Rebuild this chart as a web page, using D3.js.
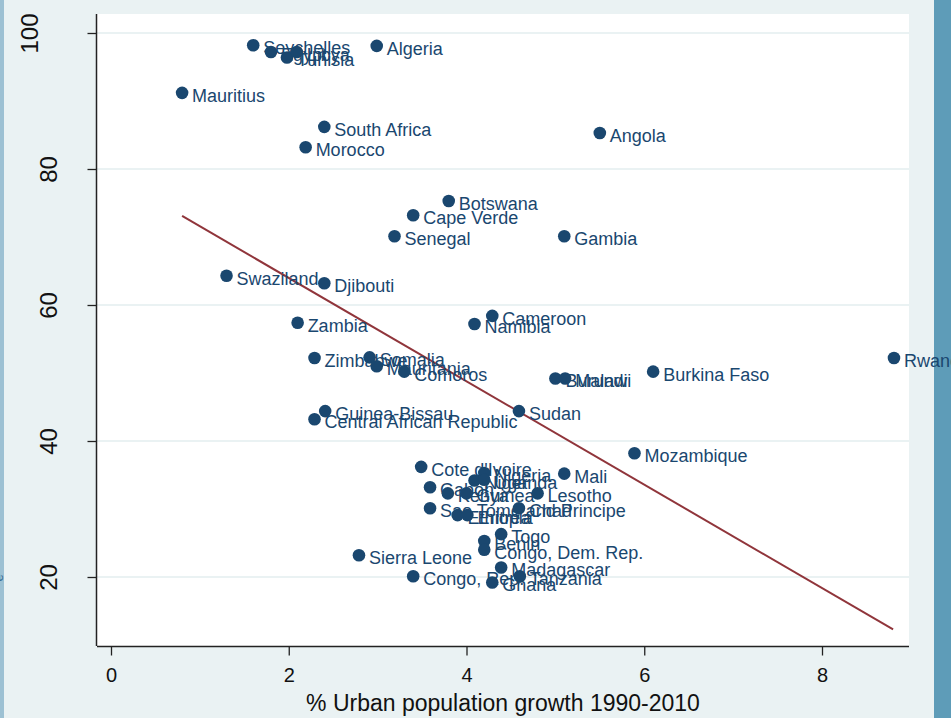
<!DOCTYPE html>
<html>
<head>
<meta charset="utf-8">
<script src="https://cdn.jsdelivr.net/npm/d3@7"></script>
<style>
  body { margin: 0; background: #eaf2f3; overflow: hidden; }
  svg { display: block; font-family: "Liberation Sans", Arial, sans-serif; }
</style>
</head>
<body>
<svg width="951" height="718"></svg>
<script>
// values
var countries = ["Seychelles", "Egypt", "Tunisia", "Libya", "Algeria", "Mauritius",
    "South Africa", "Morocco", "Angola", "Botswana", "Cape Verde", "Senegal", "Gambia",
    "Swaziland", "Djibouti", "Zambia", "Namibia", "Cameroon", "Rwanda", "Zimbabwe",
    "Somalia", "Mauritania", "Comoros", "Burundi", "Malawi", "Burkina Faso",
    "Guinea-Bissau", "Central African Republic", "Sudan", "Mozambique", "Cote d'Ivoire",
    "Nigeria", "Niger", "Uganda", "Mali", "Gabon", "Kenya", "Guinea", "Lesotho",
    "Sao Tome and Principe", "Ethiopia", "Eritrea", "Chad", "Togo", "Benin",
    "Congo, Dem. Rep.", "Sierra Leone", "Madagascar", "Tanzania", "Ghana", "Congo, Rep."]
var urbanGrowth = [1.6, 1.8, 1.98, 2.09, 2.99, 0.8,
    2.4, 2.19, 5.5, 3.8, 3.4, 3.19, 5.1,
    1.3, 2.4, 2.1, 4.09, 4.29, 8.81, 2.29,
    2.91, 2.99, 3.3, 5.0, 5.11, 6.1,
    2.41, 2.29, 4.59, 5.89, 3.49,
    4.2, 4.09, 4.2, 5.1, 3.59, 3.79, 4.0, 4.8,
    3.59, 3.9, 4.01, 4.59, 4.39, 4.2,
    4.2, 2.79, 4.39, 4.6, 4.29, 3.4]
var yValue = [98.2, 97.2, 96.4, 97.2, 98.1, 91.2,
    86.2, 83.2, 85.3, 75.3, 73.2, 70.1, 70.1,
    64.3, 63.2, 57.4, 57.2, 58.4, 52.2, 52.2,
    52.3, 51.0, 50.2, 49.2, 49.2, 50.2,
    44.4, 43.2, 44.4, 38.2, 36.2,
    35.3, 34.2, 34.3, 35.2, 33.2, 32.3, 32.3, 32.3,
    30.1, 29.1, 29.1, 30.1, 26.3, 25.3,
    24.0, 23.2, 21.4, 20.1, 19.2, 20.1]
var fitX = [0.8, 8.8]
var fitY = [73.1, 12.3]
var xTicks = [0, 2, 4, 6, 8]
var yTicks = [20, 40, 60, 80, 100]
var xTitle = "% Urban population growth 1990-2010"

var plot = {left: 97, right: 909, top: 14, bottom: 646}
var navy = "#1a476f"

var svg = d3.select("svg")

var xScale = d3.scaleLinear()
    .domain([0, 8])
    .range([111, 822])
var yScale = d3.scaleLinear()
    .domain([20, 100])
    .range([577, 33])

// side strips of the window
svg.append("rect").attr("x", 0).attr("y", 0).attr("width", 4).attr("height", 718).attr("fill", "#9dc1d3")
svg.append("rect").attr("x", 934).attr("y", 0).attr("width", 17).attr("height", 718).attr("fill", "#5e9cb8")
svg.append("text")
    .attr("transform", "translate(3,578)rotate(-90)")
    .attr("text-anchor", "middle")
    .attr("font-size", 13)
    .attr("fill", "#3a6f95")
    .text("e")

// white plot region
svg.append("rect")
    .attr("x", plot.left).attr("y", plot.top)
    .attr("width", plot.right - plot.left)
    .attr("height", plot.bottom - plot.top)
    .attr("fill", "white")

// gridlines
svg.append("g").selectAll("line")
    .data(yTicks)
    .enter()
    .append("line")
    .attr("x1", plot.left).attr("x2", plot.right)
    .attr("y1", function(d){return yScale(d)})
    .attr("y2", function(d){return yScale(d)})
    .attr("stroke", "#eaf2f3")
    .attr("stroke-width", 2)

// axes
var yAxis = d3.axisLeft(yScale).tickValues(yTicks).tickSize(9).tickFormat(d3.format("d"))
var gy = svg.append("g")
    .attr("transform", "translate(" + (plot.left - 0.5) + ",0)")
    .call(yAxis)
gy.select(".domain").attr("d", "M0," + plot.top + "V" + plot.bottom).attr("stroke", "#222").attr("stroke-width", 1.5)
gy.selectAll(".tick line").attr("stroke", "#222").attr("stroke-width", 1.3)
gy.selectAll(".tick text")
    .attr("x", null).attr("dy", null)
    .attr("font-size", 24)
    .attr("fill", "#111")
    .attr("text-anchor", "middle")
    .attr("transform", function(d){
        var bx = d == 100 ? -59 : -40
        return "translate(" + bx + ",0)rotate(-90)"
    })

var xAxis = d3.axisBottom(xScale).tickValues(xTicks).tickSize(9).tickFormat(d3.format("d"))
var gx = svg.append("g")
    .attr("transform", "translate(0," + (plot.bottom + 0.5) + ")")
    .call(xAxis)
gx.select(".domain").attr("d", "M" + plot.left + ",0H" + plot.right).attr("stroke", "#222").attr("stroke-width", 1.5)
gx.selectAll(".tick line").attr("stroke", "#222").attr("stroke-width", 1.3)
gx.selectAll(".tick text")
    .attr("y", 35).attr("dy", null)
    .attr("font-size", 20)
    .attr("fill", "#111")

svg.append("text")
    .attr("x", (plot.left + plot.right) / 2)
    .attr("y", 711)
    .attr("text-anchor", "middle")
    .attr("font-size", 23)
    .attr("fill", "#111")
    .text(xTitle)

// fitted line
var lineGenerator = d3.line()
    .x(function(d){return xScale(d[0])})
    .y(function(d){return yScale(d[1])})
svg.append("path")
    .datum(d3.zip(fitX, fitY))
    .attr("d", lineGenerator)
    .attr("fill", "none")
    .attr("stroke", "#90353b")
    .attr("stroke-width", 2)

// points + labels
var pts = countries.map(function(name, i){
    return {name: name, x: urbanGrowth[i], y: yValue[i]}
})
var gp = svg.append("g")
gp.selectAll("circle")
    .data(pts)
    .enter()
    .append("circle")
    .attr("cx", function(d){return xScale(d.x)})
    .attr("cy", function(d){return yScale(d.y)})
    .attr("r", 6.3)
    .attr("fill", navy)
gp.selectAll("text")
    .data(pts)
    .enter()
    .append("text")
    .attr("x", function(d){return xScale(d.x) + 10})
    .attr("y", function(d){return yScale(d.y) + 9})
    .attr("font-size", 18)
    .attr("fill", navy)
    .text(function(d){return d.name})
</script>
</body>
</html>
